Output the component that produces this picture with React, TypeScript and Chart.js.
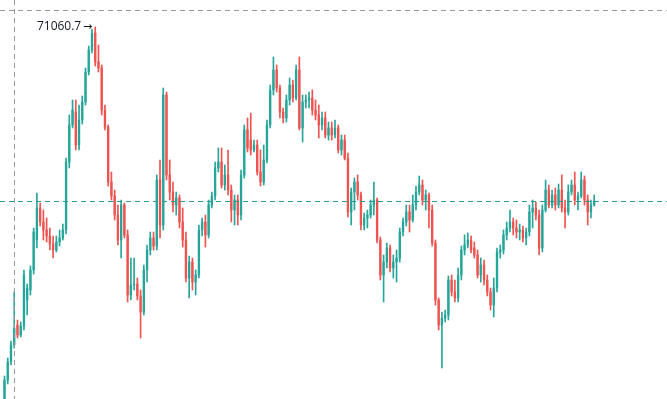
import { useEffect, useRef } from "react";
import { Chart, registerables } from "chart.js";

Chart.register(...registerables);

const opens = [
  63620, 64000, 64360, 64700, 65100, 64900, 65080, 65600, 65800, 66200,
  66800, 67440, 67160, 67000, 66880, 66720, 66600, 66760, 66840, 67000,
  68360, 69100, 69360, 68700, 69200, 69560, 70160, 70600, 70940, 70360,
  70240, 69400, 69060, 67960, 67680, 67300, 66800, 67500, 66900, 65700,
  65900, 65920, 65680, 65360, 66200, 66600, 66840, 66680, 68000, 67100,
  69700, 68100, 67760, 67500, 67640, 67160, 66800, 66040, 66360, 65960,
  66100, 67000, 67160, 66900, 67500, 67680, 68240, 68360, 67900, 68100,
  67800, 67400, 67600, 67300, 68100, 69000, 68800, 68600, 68700, 68160,
  67960, 68400, 69100, 69800, 70200, 69840, 69360, 69240, 69600, 69900,
  69640, 70200, 69040, 69560, 69600, 69640, 69400, 69300, 69100, 69240,
  68900, 69040, 68900, 69040, 68600, 68800, 68440, 67360, 67760, 67960,
  67700, 67100, 67240, 67300, 67500, 67600, 66800, 66100, 66360, 66640,
  66240, 66360, 66440, 66960, 67160, 67360, 67200, 67500, 67760, 67900,
  67600, 67700, 67400, 66740, 65600, 65100, 65240, 65300, 66000, 65760,
  65640, 66100, 66600, 66700, 66800, 66640, 66500, 66100, 66300, 66000,
  65760, 65500, 65840, 66560, 66600, 66900, 67040, 67160, 67040, 66960,
  67000, 66840, 66960, 67360, 67440, 67300, 66640, 67400, 67800, 67500,
  67700, 67500, 67800, 67440, 67360, 67760, 67900, 67600, 67680, 68000,
  67600, 67360, 67500,
];

const highs = [
  64080, 64440, 64780, 65760, 65200, 65160, 66200, 65920, 66280, 67040,
  67740, 67540, 67400, 67240, 67040, 66880, 66880, 67000, 67120, 68440,
  69300, 69600, 69600, 69500, 69680, 70240, 70680, 71020, 71060.7, 70700,
  70300, 69500, 69100, 68160, 67800, 67500, 67600, 67540, 67000, 66440,
  66440, 66040, 65800, 66300, 66700, 66960, 66960, 68100, 68400, 69840,
  69760, 68400, 67960, 67760, 67700, 67440, 66960, 66480, 66440, 66200,
  67100, 67240, 67300, 67600, 67760, 68360, 68640, 68640, 68300, 68600,
  67900, 67700, 67700, 68200, 69100, 69240, 69340, 68800, 68800, 68600,
  68700, 69200, 69900, 70460, 70300, 69900, 69440, 69700, 70040, 70000,
  70300, 70460, 69700, 69700, 69760, 69800, 69600, 69500, 69360, 69360,
  69160, 69160, 69200, 69100, 68900, 68900, 68540, 67840, 68040, 68100,
  67760, 67340, 67400, 67600, 67960, 67640, 66860, 66500, 66740, 66700,
  66500, 66600, 67040, 67240, 67500, 67500, 67700, 67880, 68080, 68000,
  67800, 67740, 67500, 66800, 65640, 65360, 65400, 66080, 66100, 66000,
  66240, 66680, 66900, 66940, 66880, 66760, 66600, 66440, 66400, 66100,
  65840, 66040, 66640, 66700, 67000, 67160, 67400, 67240, 67200, 67120,
  67080, 67040, 67500, 67600, 67560, 67400, 67500, 68000, 67900, 67800,
  67840, 67920, 68100, 67600, 67900, 68000, 68160, 67760, 68160, 68080,
  67700, 67600, 67700,
];

const lows = [
  63500, 63920, 64300, 64640, 64840, 64860, 65000, 65300, 65700, 66120,
  66640, 67080, 66800, 66760, 66600, 66440, 66560, 66680, 66800, 66920,
  68240, 69040, 68600, 68600, 69120, 69500, 70100, 70540, 70280, 70160,
  69300, 69000, 67880, 67600, 67200, 66700, 66440, 66840, 65560, 65600,
  65800, 65600, 64840, 65300, 65960, 66500, 66600, 66600, 66840, 67000,
  68000, 67600, 67360, 67300, 67040, 66660, 65960, 65640, 65800, 65700,
  66040, 66880, 66660, 66840, 67440, 67600, 68160, 67840, 67800, 67700,
  67160, 67100, 67100, 67200, 68040, 68560, 68500, 68560, 68100, 67880,
  67900, 68340, 69040, 69700, 69760, 69240, 69140, 69160, 69500, 69560,
  69600, 69000, 68760, 69440, 69440, 69300, 69200, 68840, 69000, 68840,
  68800, 68800, 68840, 68540, 68500, 68400, 67260, 67100, 67400, 67600,
  67000, 67000, 67040, 67240, 67300, 66740, 66000, 65560, 66240, 66160,
  66040, 65960, 66360, 66880, 67080, 66960, 67160, 67400, 67700, 67500,
  67400, 67040, 66680, 65500, 65000, 64240, 65160, 65200, 65680, 65560,
  65560, 66000, 66500, 66640, 66540, 66440, 66040, 65960, 65900, 65680,
  65400, 65260, 65760, 66440, 66520, 66800, 66960, 66900, 66840, 66800,
  66760, 66700, 66880, 67040, 67200, 66500, 66560, 67360, 67440, 67440,
  67400, 67440, 67360, 67040, 67300, 67700, 67500, 67400, 67640, 67500,
  67100, 67240, 67480,
];

const closes = [
  64000, 64360, 64700, 65040, 64900, 65080, 66100, 65840, 66200, 66960,
  67440, 67160, 67000, 66880, 66720, 66600, 66760, 66840, 67000, 68360,
  69100, 69400, 68700, 69200, 69560, 70160, 70600, 70940, 70360, 70240,
  69400, 69060, 67960, 67680, 67300, 66800, 67500, 66900, 65700, 65900,
  65920, 65680, 65360, 66200, 66600, 66840, 66680, 68000, 67100, 69700,
  68100, 67760, 67500, 67640, 67160, 66800, 66040, 66360, 65960, 66100,
  67000, 67160, 66900, 67500, 67680, 68240, 68360, 67900, 68100, 67800,
  67400, 67600, 67300, 68100, 69000, 68640, 68600, 68700, 68160, 67960,
  68400, 69100, 69800, 70200, 69840, 69360, 69240, 69600, 69900, 69640,
  70200, 69040, 69560, 69600, 69640, 69400, 69300, 69100, 69240, 68900,
  69040, 68900, 69040, 68600, 68800, 68440, 67360, 67760, 67960, 67700,
  67100, 67240, 67300, 67500, 67600, 66800, 66100, 66360, 66640, 66240,
  66360, 66440, 66960, 67160, 67360, 67200, 67500, 67760, 67900, 67600,
  67700, 67400, 66740, 65600, 65100, 65240, 65300, 66000, 65760, 65640,
  66100, 66600, 66700, 66800, 66600, 66500, 66100, 66300, 66000, 65760,
  65500, 65840, 66560, 66600, 66900, 67040, 67160, 67040, 66960, 67000,
  66840, 66960, 67360, 67440, 67300, 66640, 67400, 67800, 67500, 67700,
  67500, 67800, 67440, 67360, 67760, 67900, 67600, 67680, 68000, 67600,
  67360, 67500, 67580,
];

const maxHighText = "71060.7";
const crossPrice = 71400;
const crossIndex = 2.9;
const priceMin = 63620;
const priceMax = 71600;
const indexMin = -1.39;
const indexMax = 204.47;

const UP = "#26a69a";
const DOWN = "#ef5350";

export default function App() {
  const ref = useRef<HTMLCanvasElement>(null);

  useEffect(() => {
    if (!ref.current) return;
    const colors = closes.map((c, i) => (c >= opens[i] ? UP : DOWN));
    const bodies = closes.map((c, i) => ({ x: i, y: [opens[i], c] }));
    const wicks = highs.map((h, i) => ({ x: i, y: [lows[i], h] }));

    let maxIdx = 0;
    highs.forEach((h, i) => {
      if (h > highs[maxIdx]) maxIdx = i;
    });

    const overlay = {
      id: "overlay",
      afterDatasetsDraw(chart: any) {
        const { ctx, scales } = chart;
        const xs = scales.x;
        const ys = scales.y;
        const W = chart.width;
        const H = chart.height;
        ctx.save();
        ctx.lineWidth = 1;

        // crosshair
        ctx.strokeStyle = "#9598a1";
        ctx.setLineDash([5, 4]);
        const cy = Math.round(ys.getPixelForValue(crossPrice)) + 0.5;
        ctx.beginPath();
        ctx.moveTo(0, cy);
        ctx.lineTo(W, cy);
        ctx.stroke();
        const cx = Math.round(xs.getPixelForValue(crossIndex)) + 0.5;
        ctx.beginPath();
        ctx.moveTo(cx, 0);
        ctx.lineTo(cx, H);
        ctx.stroke();

        // last price line
        ctx.strokeStyle = "#2a9d8f";
        ctx.setLineDash([5, 4]);
        const ly = Math.round(ys.getPixelForValue(closes[closes.length - 1])) + 0.5;
        ctx.beginPath();
        ctx.moveTo(0, ly);
        ctx.lineTo(W, ly);
        ctx.stroke();

        // max label
        ctx.setLineDash([]);
        ctx.fillStyle = "#131722";
        const mx = xs.getPixelForValue(maxIdx);
        const my = ys.getPixelForValue(highs[maxIdx]);
        ctx.textBaseline = "middle";
        ctx.textAlign = "right";
        ctx.font = '11px "DejaVu Sans", sans-serif';
        ctx.fillText("\u2192", mx - 3, my + 0.5);
        ctx.font = '12px "Open Sans", "Noto Sans", sans-serif';
        ctx.fillText(maxHighText, mx - 14, my);
        ctx.restore();
      },
    };

    const chart = new Chart(ref.current, {
      type: "bar",
      data: {
        datasets: [
          {
            data: bodies as any,
            backgroundColor: colors,
            barThickness: 1.7,
            minBarLength: 1,
            grouped: false,
            order: 0,
          } as any,
          {
            data: wicks as any,
            backgroundColor: colors,
            barThickness: 1,
            grouped: false,
            order: 1,
          } as any,
        ],
      },
      options: {
        animation: false,
        responsive: false,
        maintainAspectRatio: false,
        layout: { padding: 0 },
        plugins: { legend: { display: false }, tooltip: { enabled: false } },
        scales: {
          x: { type: "linear", min: indexMin, max: indexMax, display: false, offset: false },
          y: { type: "linear", min: priceMin, max: priceMax, display: false },
        },
      },
      plugins: [overlay],
    });
    return () => chart.destroy();
  }, []);

  return (
    <div style={{ position: "fixed", left: 0, top: 0, width: 667, height: 399, background: "#fff" }}>
      <canvas ref={ref} width={667} height={399} style={{ display: "block" }} />
    </div>
  );
}
